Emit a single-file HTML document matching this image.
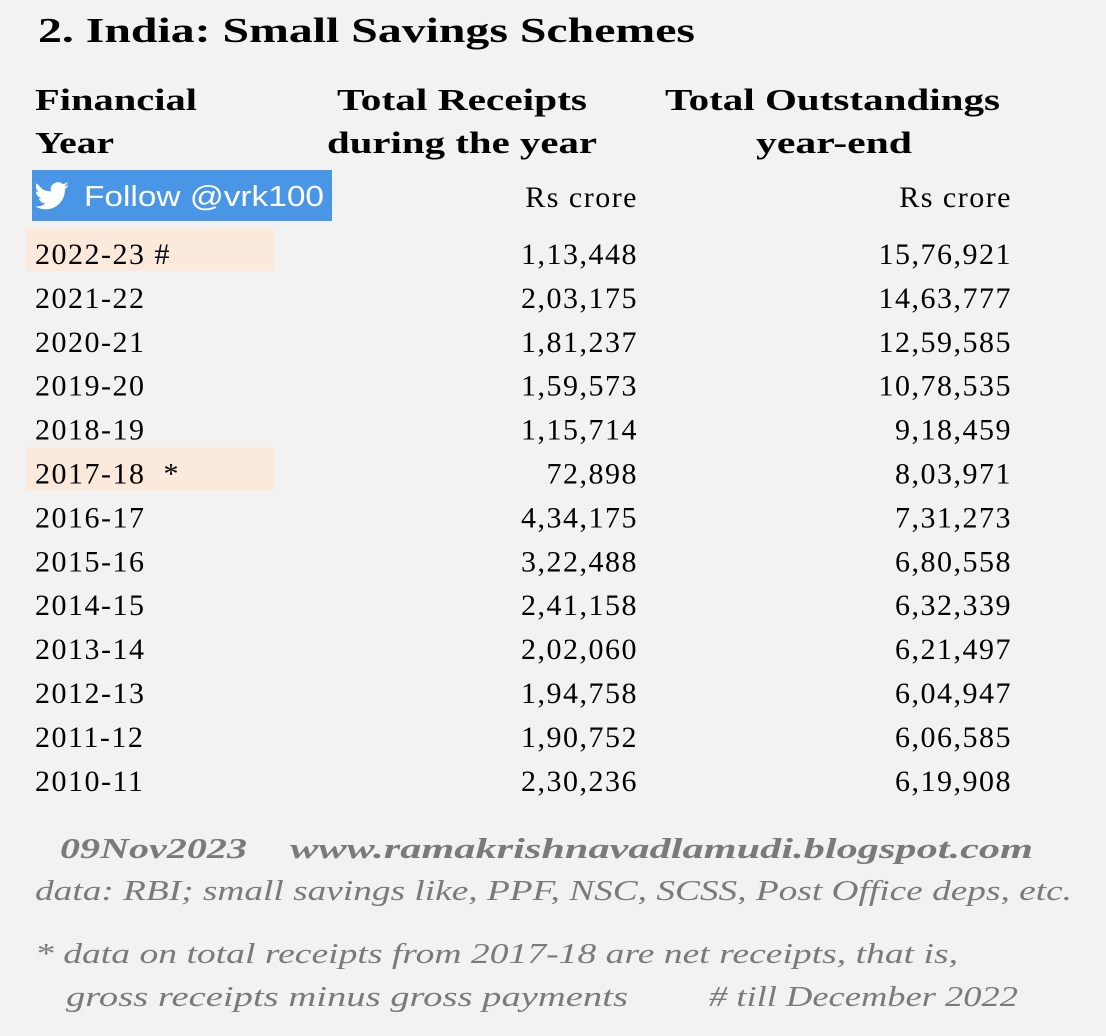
<!DOCTYPE html>
<html><head><meta charset="utf-8"><style>
html,body{margin:0;padding:0;background:#f2f2f2;}
svg{display:block;font-family:"Liberation Serif",serif;}
.n{font-size:30px;fill:#000;letter-spacing:1.5px;}
.h{font-size:31px;font-weight:bold;fill:#000;}
.f{font-size:29px;font-style:italic;fill:#7a7a7a;}
</style></head><body>
<svg id="tbl" width="1106" height="1036" viewBox="0 0 1106 1036" xmlns="http://www.w3.org/2000/svg">
<rect width="1106" height="1036" fill="#f2f2f2"/>
<text x="38" y="42" font-size="35" font-weight="bold" textLength="657" lengthAdjust="spacingAndGlyphs">2. India: Small Savings Schemes</text>
<text class="h" x="35" y="110" textLength="162" lengthAdjust="spacingAndGlyphs">Financial</text>
<text class="h" x="35" y="153" textLength="79" lengthAdjust="spacingAndGlyphs">Year</text>
<text class="h" x="337" y="110" textLength="250" lengthAdjust="spacingAndGlyphs">Total Receipts</text>
<text class="h" x="327" y="153" textLength="270" lengthAdjust="spacingAndGlyphs">during the year</text>
<text class="h" x="665" y="110" textLength="335" lengthAdjust="spacingAndGlyphs">Total Outstandings</text>
<text class="h" x="756" y="153" textLength="156" lengthAdjust="spacingAndGlyphs">year-end</text>
<g>
<rect x="32" y="170" width="300" height="51" fill="#4a96e6"/>
<path transform="translate(41,182) scale(1.45) translate(-43,-178)" d="M44 183c2 1 4 1.5 6 1.5-1-2 0-5 3-6 2-1 4 0 5 1 1.5-.3 2.5-1 3.5-1.5-.5 1.5-1.5 2.5-2.5 3 1 0 2-.4 3-.8-.7 1-1.5 2-2.5 2.6.3 7-5 14-13 14-3 0-5.5-.8-7.5-2 2.5.3 5-.5 7-2-2 0-4-1.5-4.5-3.5.7.1 1.4.1 2-.1-2.3-.5-4-2.5-4-4.8.6.3 1.3.5 2 .5-2-1.4-2.6-4-1.5-6z" fill="#fff"/>
<text x="84" y="206" font-family="Liberation Sans, sans-serif" font-size="29" fill="#fff" textLength="240" lengthAdjust="spacingAndGlyphs">Follow @vrk100</text>
</g>
<text class="n" x="638" y="207" text-anchor="end">Rs crore</text>
<text class="n" x="1012" y="207" text-anchor="end">Rs crore</text>
<g id="rows"></g>
<text class="f" x="60" y="858" font-weight="bold" textLength="187" lengthAdjust="spacingAndGlyphs">09Nov2023</text>
<text class="f" x="290" y="858" font-weight="bold" textLength="743" lengthAdjust="spacingAndGlyphs">www.ramakrishnavadlamudi.blogspot.com</text>
<text class="f" x="35" y="900" textLength="1037" lengthAdjust="spacingAndGlyphs">data: RBI; small savings like, PPF, NSC, SCSS, Post Office deps, etc.</text>
<text class="f" x="35" y="963" textLength="923" lengthAdjust="spacingAndGlyphs">* data on total receipts from 2017-18 are net receipts, that is,</text>
<text class="f" x="66" y="1006" textLength="562" lengthAdjust="spacingAndGlyphs">gross receipts minus gross payments</text>
<text class="f" x="709" y="1006" textLength="309" lengthAdjust="spacingAndGlyphs"># till December 2022</text>
</svg>
<script>
const years=["2022-23 #","2021-22","2020-21","2019-20","2018-19","2017-18  *","2016-17","2015-16","2014-15","2013-14","2012-13","2011-12","2010-11"];
const receipts=["1,13,448","2,03,175","1,81,237","1,59,573","1,15,714","72,898","4,34,175","3,22,488","2,41,158","2,02,060","1,94,758","1,90,752","2,30,236"];
const outstanding=["15,76,921","14,63,777","12,59,585","10,78,535","9,18,459","8,03,971","7,31,273","6,80,558","6,32,339","6,21,497","6,04,947","6,06,585","6,19,908"];
const highlighted=[0,5];
const NS="http://www.w3.org/2000/svg";
const g=document.getElementById('rows');
const rowY=i=>264+i*43.9;
years.forEach((y,i)=>{
  if(highlighted.includes(i)){
    const r=document.createElementNS(NS,'rect');
    
    
    r.setAttribute('x',26);r.setAttribute('y',rowY(i)-36);r.setAttribute('width',248);r.setAttribute('height',43);r.setAttribute('fill','#fbeadb');
    g.appendChild(r);
  }
  const t1=document.createElementNS(NS,'text');
  
  
  t1.setAttribute('class','n');t1.setAttribute('x',35);t1.setAttribute('y',rowY(i));
  t1.setAttribute('xml:space','preserve');t1.style.whiteSpace='pre';
  t1.textContent=y;g.appendChild(t1);
  const t2=document.createElementNS(NS,'text');
  
  
  t2.setAttribute('class','n');t2.setAttribute('x',638);t2.setAttribute('y',rowY(i));t2.setAttribute('text-anchor','end');
  t2.textContent=receipts[i];g.appendChild(t2);
  const t3=document.createElementNS(NS,'text');
  
  
  t3.setAttribute('class','n');t3.setAttribute('x',1012);t3.setAttribute('y',rowY(i));t3.setAttribute('text-anchor','end');
  t3.textContent=outstanding[i];g.appendChild(t3);
});
</script>
</body></html>
